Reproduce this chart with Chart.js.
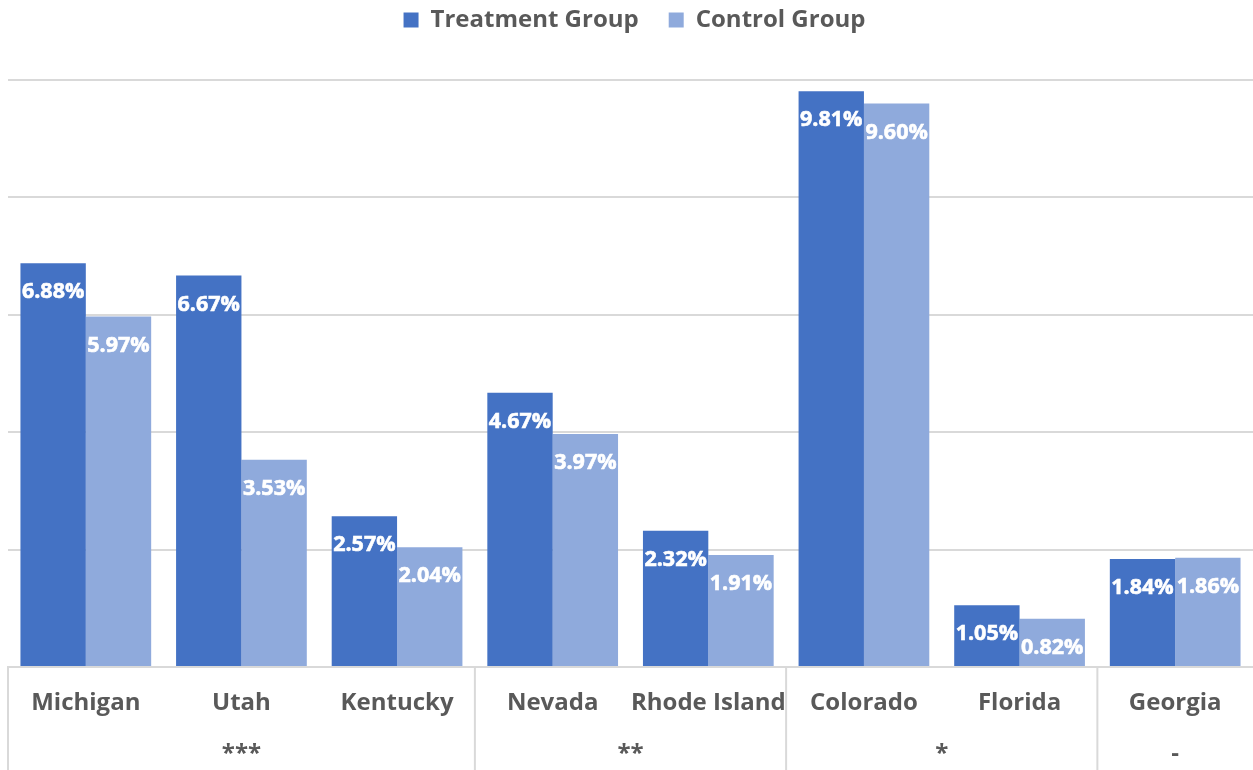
<!DOCTYPE html>
<html>
<head>
<meta charset="utf-8">
<script src="https://cdn.jsdelivr.net/npm/chart.js@4/dist/chart.umd.min.js"></script>
<style>
html,body{margin:0;padding:0;background:#fff;}
#wrap{width:1253px;height:770px;position:relative;}
</style>
</head>
<body>
<div id="wrap"><canvas id="c" width="1253" height="770"></canvas></div>
<script>
const categories = ['Michigan','Utah','Kentucky','Nevada','Rhode Island','Colorado','Florida','Georgia'];
const treatment = [6.88, 6.67, 2.57, 4.67, 2.32, 9.81, 1.05, 1.84];
const control   = [5.97, 3.53, 2.04, 3.97, 1.91, 9.60, 0.82, 1.86];
const groupLabels = ['***','**','*','-'];
const groupStarts = [0, 3, 5, 7];   // first category index of each group
const groupEnds   = [2, 4, 6, 7];   // last category index of each group
const seriesNames = ['Treatment Group','Control Group'];

const FONT = "'Open Sans', 'Noto Sans', sans-serif";
const GRAY = '#595959';
const GRID = '#d9d9d9';

const legendTweak = {
  id: 'legendTweak',
  afterInit(chart) {
    const lg = chart.legend;
    if (!lg) return;
    const origFit = lg.fit;
    lg.fit = function() { origFit.call(this); this.height = 80; };
    const origDraw = lg.draw;
    lg.draw = function(a) {
      const ctx = this.ctx;
      ctx.save();
      ctx.translate(4, -22);
      origDraw.call(this, a);
      ctx.restore();
    };
  }
};

const valueLabels = {
  id: 'valueLabels',
  afterDatasetsDraw(chart) {
    const ctx = chart.ctx;
    ctx.save();
    ctx.font = "bold 21.5px " + FONT;
    ctx.fillStyle = '#ffffff';
    ctx.strokeStyle = '#ffffff';
    ctx.lineWidth = 0.6;
    ctx.textAlign = 'center';
    ctx.textBaseline = 'middle';
    chart.data.datasets.forEach((ds, di) => {
      const meta = chart.getDatasetMeta(di);
      meta.data.forEach((bar, i) => {
        const t = ds.data[i].toFixed(2) + '%';
        ctx.fillText(t, bar.x, bar.y + 29);
        ctx.strokeText(t, bar.x, bar.y + 29);
      });
    });
    ctx.restore();
  }
};

const groupAxis = {
  id: 'groupAxis',
  afterDraw(chart) {
    const ctx = chart.ctx;
    const x = chart.scales.x;
    const top = chart.chartArea.bottom;
    const bottom = chart.height;
    const half = (x.getPixelForValue(1) - x.getPixelForValue(0)) / 2;
    ctx.save();
    ctx.strokeStyle = GRID;
    ctx.lineWidth = 2;
    const seps = [x.getPixelForValue(0) - half];
    groupEnds.forEach((e, gi) => { if (gi < groupEnds.length - 1) seps.push(x.getPixelForValue(e) + half); });
    seps.forEach(sx => {
      ctx.beginPath();
      ctx.moveTo(sx, top);
      ctx.lineTo(sx, bottom);
      ctx.stroke();
    });
    ctx.font = "bold 24px " + FONT;
    ctx.fillStyle = GRAY;
    ctx.textAlign = 'center';
    ctx.textBaseline = 'middle';
    groupLabels.forEach((g, gi) => {
      const cx = (x.getPixelForValue(groupStarts[gi]) + x.getPixelForValue(groupEnds[gi])) / 2;
      ctx.fillText(g, cx, 754);
    });
    ctx.restore();
  }
};

new Chart(document.getElementById('c'), {
  type: 'bar',
  data: {
    labels: categories,
    datasets: [
      { label: seriesNames[0], data: treatment, backgroundColor: '#4472C4', categoryPercentage: 0.84, barPercentage: 1.0 },
      { label: seriesNames[1], data: control, backgroundColor: '#8FAADC', categoryPercentage: 0.84, barPercentage: 1.0 }
    ]
  },
  options: {
    responsive: false,
    animation: false,
    devicePixelRatio: 1,
    layout: { padding: { left: 8, right: 0, top: 0, bottom: 0 } },
    plugins: {
      legend: {
        position: 'top',
        labels: {
          boxWidth: 15, boxHeight: 15,
          color: GRAY,
          font: { family: FONT, size: 24, weight: 'bold' },
          padding: 30
        }
      },
      tooltip: { enabled: false }
    },
    scales: {
      x: {
        grid: { display: false },
        border: { display: true, color: GRID, width: 2 },
        ticks: { color: GRAY, font: { family: FONT, size: 24, weight: 'bold' }, padding: 14, maxRotation: 0, autoSkip: false },
        afterFit(s) { s.height = 103; }
      },
      y: {
        min: 0, max: 10,
        ticks: { display: false, stepSize: 2 },
        grid: { color: GRID, lineWidth: 2, drawTicks: false },
        border: { display: false },
        afterFit(s) { s.width = 0; }
      }
    }
  },
  plugins: [legendTweak, valueLabels, groupAxis]
});
</script>
</body>
</html>
